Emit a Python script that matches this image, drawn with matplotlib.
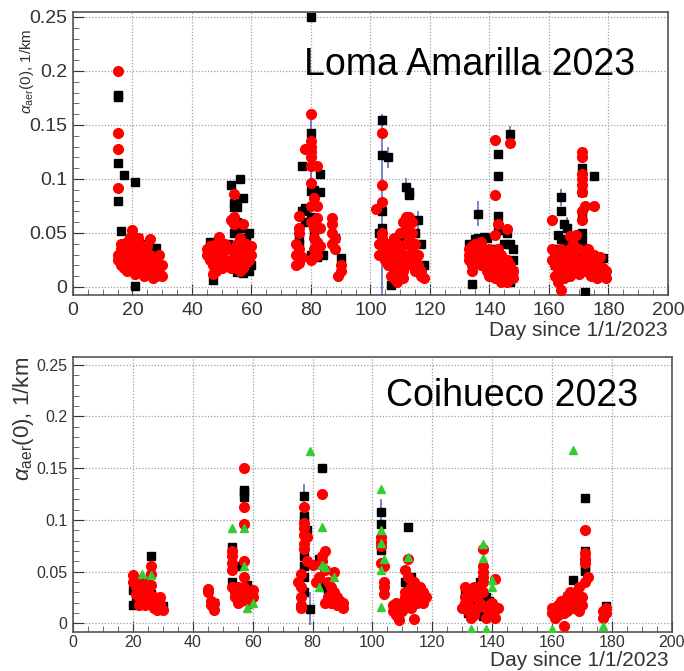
import matplotlib
matplotlib.use("Agg")
import matplotlib.pyplot as plt
from matplotlib.ticker import MultipleLocator

# ---------------- Loma Amarilla 2023 (top) ----------------
la_black_day = [15,15,15,15,17,21,16,21,20,22,25,27,28,29,18,23,26,24,
                46,47,49,50,53,54,54,56,57,55,54,55,56,57,59,59,58,60,55,52,48,
                80,80,77,78,77,76,80,81,83,83,80,81,82,80,82,78,88,90,84,76,
                104,104,106,104,104,103,112,113,113,116,107,111,113,115,117,118,109,110,105,
                136,134,143,143,143,143,147,146,147,148,148,148,136,138,135,133,139,145,142,147,
                164,164,165,166,163,164,165,163,166,171,171,171,171,171,175,172,178,162,167,170,176,174]
la_black_val = [0.178,0.176,0.115,0.080,0.104,0.097,0.052,0.001,0.048,0.045,0.040,0.035,0.036,0.020,0.030,0.020,0.012,0.030,
                0.042,0.006,0.030,0.020,0.094,0.078,0.074,0.100,0.082,0.074,0.050,0.060,0.055,0.013,0.050,0.015,0.045,0.020,0.014,0.040,0.020,
                0.250,0.143,0.112,0.073,0.070,0.045,0.089,0.090,0.088,0.105,0.065,0.050,0.040,0.030,0.028,0.060,0.045,0.027,0.030,0.040,
                0.155,0.122,0.120,0.070,0.055,0.050,0.093,0.088,0.085,0.062,0.002,0.045,0.060,0.050,0.040,0.020,0.030,0.020,0.040,
                0.068,0.003,0.123,0.103,0.066,0.053,0.142,0.050,0.040,0.035,0.025,0.015,0.045,0.046,0.044,0.040,0.045,0.040,0.035,0.005,
                0.083,0.070,0.058,0.055,0.048,0.044,0.040,0.035,0.030,0.110,0.088,0.067,0.050,0.043,0.103,-0.005,0.027,0.020,0.025,0.030,0.010,0.015]

la_red_day = [15,15,15,15,20,15,15,16,16,16,17,17,17,18,18,18,19,19,19,20,20,20,21,21,21,22,22,22,23,23,23,24,24,24,25,25,25,26,26,26,27,27,27,28,28,29,29,30,30,28,22,24,
              54,54,54,53,45,45,46,46,47,47,47,48,48,48,49,49,49,50,50,51,51,52,53,53,54,54,55,55,55,56,56,56,57,57,57,58,58,58,59,59,60,60,56,
              80,80,80,80,80,78,80,82,80,81,82,80,82,80,81,83,76,76,76,75,75,75,76,76,77,81,81,82,82,83,80,81,87,87,87,88,87,88,90,90,89,
              104,104,104,102,104,103,103,104,105,105,106,106,106,107,107,107,108,108,108,109,109,109,110,110,110,111,111,111,112,112,112,112,113,113,113,114,114,114,114,115,115,115,116,116,117,117,118,111,108,
              142,147,142,143,146,142,133,133,133,134,134,134,135,135,135,136,136,136,137,137,137,138,138,139,139,140,140,140,141,141,141,142,142,143,143,144,144,144,145,145,146,146,146,147,148,148,147,
              171,171,171,171,171,171,172,171,175,161,171,167,169,161,161,162,162,162,163,163,163,164,164,164,165,165,165,166,166,167,167,168,168,168,169,169,170,170,171,172,172,173,173,174,174,175,175,176,176,177,177,178,178,179,179]
la_red_val = [0.200,0.143,0.128,0.092,0.053,0.025,0.030,0.035,0.020,0.040,0.030,0.018,0.038,0.025,0.042,0.015,0.032,0.022,0.045,0.028,0.038,0.016,0.035,0.020,0.012,0.030,0.025,0.040,0.015,0.032,0.022,0.028,0.018,0.010,0.038,0.024,0.014,0.044,0.030,0.020,0.026,0.012,0.008,0.018,0.024,0.030,0.014,0.020,0.010,0.010,0.045,0.038,
              0.086,0.065,0.058,0.062,0.035,0.030,0.025,0.038,0.020,0.032,0.012,0.028,0.040,0.015,0.022,0.036,0.046,0.030,0.018,0.025,0.040,0.035,0.025,0.018,0.035,0.028,0.040,0.020,0.032,0.045,0.025,0.035,0.030,0.018,0.058,0.040,0.022,0.030,0.035,0.025,0.030,0.038,0.015,
              0.160,0.135,0.130,0.125,0.120,0.128,0.112,0.112,0.096,0.082,0.075,0.075,0.064,0.060,0.055,0.055,0.066,0.055,0.050,0.040,0.030,0.020,0.022,0.035,0.028,0.045,0.035,0.042,0.030,0.038,0.025,0.028,0.064,0.058,0.050,0.045,0.040,0.035,0.020,0.015,0.010,
              0.143,0.094,0.079,0.072,0.050,0.040,0.030,0.045,0.035,0.025,0.040,0.030,0.020,0.035,0.010,0.025,0.030,0.015,0.045,0.040,0.020,0.005,0.035,0.025,0.050,0.060,0.030,0.015,0.065,0.055,0.040,0.020,0.065,0.045,0.030,0.050,0.035,0.020,0.060,0.040,0.025,0.015,0.030,0.020,0.015,0.010,0.008,0.008,0.008,
              0.136,0.133,0.085,0.058,0.054,0.048,0.035,0.025,0.030,0.020,0.038,0.015,0.030,0.040,0.022,0.035,0.025,0.040,0.030,0.042,0.020,0.035,0.022,0.030,0.015,0.025,0.035,0.010,0.020,0.030,0.012,0.025,0.008,0.035,0.018,0.030,0.012,0.005,0.020,0.010,0.025,0.015,0.005,0.010,0.008,0.015,0.020,
              0.125,0.120,0.105,0.100,0.094,0.088,0.075,0.070,0.075,0.062,0.062,0.047,0.048,0.035,0.025,0.020,0.010,0.030,0.015,0.005,0.025,0.035,0.010,-0.003,0.020,0.030,0.008,0.015,0.025,0.035,0.010,0.020,0.030,0.040,0.015,0.025,0.035,0.012,0.020,0.030,0.015,0.025,0.035,0.020,0.010,0.030,0.015,0.020,0.008,0.012,0.028,0.010,0.018,0.008,0.015]

la_err_day = [80, 104, 106, 136, 164, 147, 112, 116, 166]
la_err_val = [0.100, 0.075, 0.120, 0.068, 0.083, 0.142, 0.093, 0.062, 0.055]
la_err = [0.065, 0.085, 0.010, 0.012, 0.008, 0.007, 0.008, 0.008, 0.010]

# ---------------- Coihueco 2023 (bottom) ----------------
co_black_day = [26,20,21,20,22,23,26,25,28,29,30,24,
                53,53,54,55,57,57,57,58,59,56,47,
                77,77,77,77,77,78,77,77,79,83,82,83,84,85,87,89,
                103,103,103,112,111,112,113,114,109,
                131,134,135,136,137,138,139,132,
                167,171,171,171,171,171,178,163]
co_black_val = [0.065,0.032,0.025,0.018,0.020,0.035,0.028,0.020,0.018,0.015,0.017,0.040,
                0.074,0.040,0.028,0.055,0.129,0.127,0.122,0.037,0.030,0.025,0.020,
                0.123,0.104,0.100,0.065,0.055,0.090,0.045,0.030,0.014,0.150,0.062,0.040,0.035,0.030,0.025,0.020,
                0.108,0.096,0.071,0.093,0.040,0.035,0.045,0.030,0.005,
                0.028,0.020,0.035,0.040,0.007,0.025,0.022,0.010,
                0.042,0.121,0.070,0.064,0.055,0.051,0.017,0.020]

co_red_day = [26,26,26,20,20,21,21,21,22,22,22,23,23,24,24,25,25,26,27,27,28,28,29,29,30,24,
              57,57,57,57,57,45,45,46,46,47,47,53,53,53,53,53,54,54,55,55,56,56,57,57,58,58,59,59,60,60,
              77,77,77,77,78,77,77,78,76,75,76,76,76,76,80,81,82,83,83,84,83,84,85,86,87,85,86,87,88,88,89,90,90,84,86,
              103,103,103,103,104,104,104,104,107,107,108,108,109,109,110,110,111,111,111,112,112,112,113,113,114,114,114,115,115,116,116,117,117,118,
              137,137,137,137,131,130,131,131,132,132,132,133,133,133,134,134,134,135,135,136,136,136,137,137,138,138,139,139,140,140,141,141,142,141,
              171,171,171,171,172,171,160,160,161,161,162,162,163,163,164,164,165,165,166,166,167,167,168,168,169,169,170,170,177,177,178,178]
co_red_val = [0.055,0.048,0.037,0.047,0.040,0.043,0.035,0.028,0.038,0.025,0.018,0.030,0.022,0.028,0.018,0.025,0.030,0.020,0.025,0.015,0.022,0.013,0.020,0.025,0.013,0.038,
              0.150,0.112,0.096,0.060,0.045,0.033,0.030,0.022,0.018,0.013,0.020,0.070,0.065,0.058,0.052,0.035,0.030,0.025,0.035,0.020,0.030,0.022,0.028,0.035,0.025,0.032,0.020,0.028,0.025,0.032,
              0.112,0.097,0.092,0.085,0.083,0.077,0.072,0.060,0.048,0.040,0.035,0.025,0.018,0.015,0.056,0.040,0.045,0.060,0.065,0.070,0.125,0.052,0.040,0.035,0.050,0.025,0.020,0.030,0.025,0.018,0.022,0.020,0.015,0.020,0.028,
              0.083,0.079,0.075,0.058,0.055,0.040,0.035,0.028,0.018,0.012,0.020,0.008,0.015,0.003,0.020,0.012,0.052,0.030,0.025,0.062,0.045,0.020,0.035,0.015,0.025,0.040,0.004,0.030,0.020,0.035,0.025,0.030,0.020,0.025,
              0.072,0.055,0.050,0.045,0.035,0.015,0.020,0.025,0.018,0.012,0.028,0.015,0.005,0.025,0.030,0.008,0.035,0.025,0.015,0.030,0.020,0.035,0.040,0.030,0.015,0.005,0.018,0.012,0.020,0.010,0.015,0.043,0.015,0.005,
              0.090,0.068,0.062,0.058,0.045,0.040,0.015,0.010,0.012,0.005,0.018,0.008,0.015,0.022,0.010,-0.003,0.025,0.012,0.020,0.030,0.015,0.025,0.020,0.030,0.035,0.012,0.025,0.018,0.012,0.005,0.010,0.015]

co_green_day = [23,26,53,57,57,60,58,79,83,83,84,87,82,103,103,103,104,103,103,112,137,137,140,140,133,138,167,160,177]
co_green_val = [0.048,0.047,0.092,0.092,0.055,0.020,0.015,0.167,0.093,0.056,0.054,0.045,0.035,0.130,0.090,0.078,0.062,0.052,0.016,0.064,0.077,0.063,0.042,0.035,-0.006,-0.006,0.168,-0.006,-0.003]

co_err_day = [77, 79, 103, 164]
co_err_val = [0.123, 0.014, 0.108, 0.020]
co_err = [0.012, 0.016, 0.012, 0.010]

xticks = [0, 20, 40, 60, 80, 100, 120, 140, 160, 180, 200]
yticks = [0, 0.05, 0.1, 0.15, 0.2, 0.25]
ytick_labels = ["0", "0.05", "0.1", "0.15", "0.2", "0.25"]

plt.rcParams['font.family'] = ['Liberation Sans', 'DejaVu Sans']
plt.rcParams['mathtext.fontset'] = 'custom'
plt.rcParams['mathtext.rm'] = 'Liberation Sans'
plt.rcParams['mathtext.it'] = 'Liberation Sans:italic'

fig = plt.figure(figsize=(6.84, 6.71), dpi=100)
ax1 = fig.add_axes([0.1067, 0.5604, 0.8699, 0.4218])
ax2 = fig.add_axes([0.1067, 0.0580, 0.8757, 0.4100])


def style(ax, ylim, tick_fs, xpad):
    ax.set_xlim(0, 200)
    ax.set_ylim(*ylim)
    ax.set_xticks(xticks)
    ax.set_yticks(yticks)
    ax.set_yticklabels(ytick_labels)
    ax.xaxis.set_minor_locator(MultipleLocator(5))
    ax.yaxis.set_minor_locator(MultipleLocator(0.01))
    ax.tick_params(which='major', direction='in', length=8, width=0.8, labelsize=tick_fs,
                   colors='#333333', labelcolor='#333333', pad=4)
    ax.tick_params(axis='x', which='major', pad=xpad)
    ax.tick_params(which='minor', direction='in', length=4, width=0.6, colors='#555555')
    ax.grid(True, which='major', linestyle=(0, (1, 1.5)), color='#a0a0a0', linewidth=0.9)
    ax.set_axisbelow(True)
    for s in ax.spines.values():
        s.set_color('#555555')
        s.set_linewidth(1.2)


style(ax1, (-0.0074, 0.2546), 14, 5)
style(ax2, (-0.0085, 0.2575), 11.5, 2)

# x-axis titles (ROOT style: right-aligned at the end of the axis)
ax1.text(1.0, -0.092, 'Day since 1/1/2023', transform=ax1.transAxes, ha='right', va='top',
         fontsize=15, color='#333333')
fig.text(0.978, 0.001, 'Day since 1/1/2023', ha='right', va='bottom',
         fontsize=15, color='#333333')

# y-axis titles (ROOT style: aligned to the top of the axis)
fig.text(0.040, 0.958, r'$\alpha_{\rm aer}$(0), 1/km', rotation=90, ha='center', va='top',
         fontsize=11, color='#333333')
fig.text(0.034, 0.468, r'$\alpha_{\rm aer}$(0), 1/km', rotation=90, ha='center', va='top',
         fontsize=16, color='#333333')

for ax, ed, ev, ee in [(ax1, la_err_day, la_err_val, la_err), (ax2, co_err_day, co_err_val, co_err)]:
    ax.errorbar(ed, ev, yerr=ee, fmt='none', ecolor='#5566bb', elinewidth=1.4, alpha=0.8, zorder=2)

ax1.plot(la_black_day, la_black_val, 's', color='black', ms=5.5, mec='black', zorder=3)
ax1.plot(la_red_day, la_red_val, 'o', color='#ff0000', ms=7, mec='#ff0000', zorder=4)

ax2.plot(co_black_day, co_black_val, 's', color='black', ms=5.5, mec='black', zorder=3)
ax2.plot(co_red_day, co_red_val, 'o', color='#ff0000', ms=7, mec='#ff0000', zorder=4)
ax2.plot(co_green_day, co_green_val, '^', color='#33cc33', ms=5.5, mec='#33cc33', zorder=5)

ax1.text(0.944, 0.813, 'Loma Amarilla 2023', transform=ax1.transAxes, ha='right', va='center',
         fontsize=27, color='black')
ax2.text(0.944, 0.859, 'Coihueco 2023', transform=ax2.transAxes, ha='right', va='center',
         fontsize=27, color='black')

fig.savefig('out.png', dpi=100, facecolor='white')
